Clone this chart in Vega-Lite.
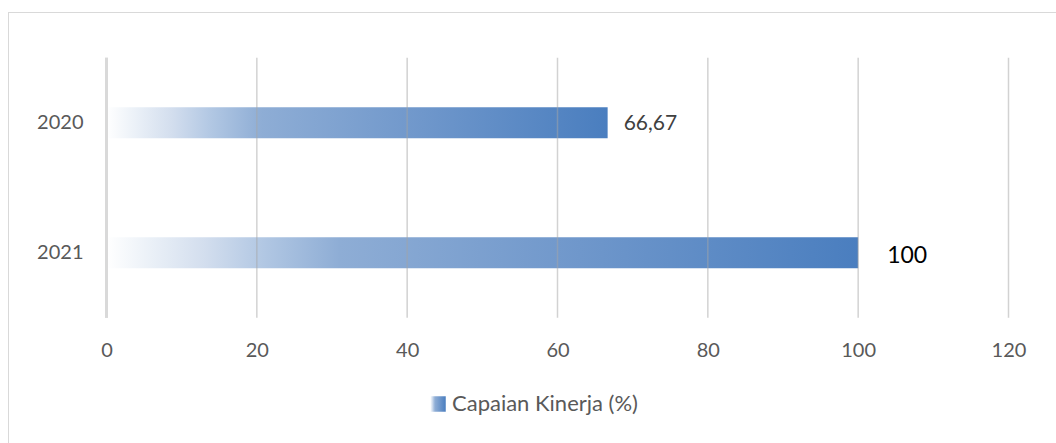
{
  "$schema": "https://vega.github.io/schema/vega-lite/v6.json",
  "width": 1048,
  "height": 431,
  "autosize": {"type": "none"},
  "padding": {"left": 8, "top": 12, "right": 0, "bottom": 0},
  "background": "#ffffff",
  "config": {
    "view": {"stroke": null},
    "font": "Lato",
    "locale": {"number": {"decimal": ",", "thousands": ".", "grouping": [3], "currency": ["Rp", ""]}}
  },
  "resolve": {"axis": {"x": "independent", "y": "independent"}},
  "data": {"values": [
    {"year": 2020, "value": 66.67, "series": "Capaian Kinerja (%)"},
    {"year": 2021, "value": 100, "series": "Capaian Kinerja (%)"}
  ]},
  "layer": [
    {
      "mark": {"type": "bar", "orient": "horizontal", "height": 31},
      "encoding": {
        "x": {"field": "value", "type": "quantitative",
              "scale": {"domain": [-13.104, 126.319], "nice": false, "zero": false, "padding": 0},
              "axis": {"orient": "bottom", "values": [0, 20, 40, 60, 80, 100, 120], "format": "d", "title": null,
                       "domain": false, "ticks": false, "grid": false, "offset": -93,
                       "labelPadding": 0, "labelBaseline": "middle", "labelFontSize": 20, "labelColor": "#595959",
                       "labelFont": "Lato", "labelFlush": false, "labelOverlap": false}},
        "x2": {"datum": 0},
        "y": {"field": "year", "type": "quantitative",
              "scale": {"domain": [2019.1477, 2022.4631], "reverse": true, "nice": false, "zero": false, "padding": 0},
              "axis": {"orient": "left", "values": [2020, 2021], "format": "d", "title": null,
                       "domain": false, "ticks": false, "grid": false, "offset": -77,
                       "labelFontSize": 20, "labelColor": "#595959", "labelFont": "Lato", "labelBaseline": "middle",
                       "labelOverlap": false}},
        "color": {"field": "series", "type": "nominal",
                  "scale": {"range": [{"expr": "{gradient: 'linear', x1: 0, y1: 0, x2: 1, y2: 0, stops: [{offset: 0, color: '#ffffff'}, {offset: 0.06, color: '#eaf0f7'}, {offset: 0.13, color: '#d3deee'}, {offset: 0.21, color: '#b1c7e3'}, {offset: 0.31, color: '#8eadd5'}, {offset: 0.63, color: '#6f97cb'}, {offset: 1, color: '#4a7ebf'}]}"}]},
                  "legend": {"orient": "none", "legendX": 419, "legendY": 381, "title": null, "padding": 0,
                             "symbolType": "square", "symbolSize": 240, "symbolStrokeWidth": 0,
                             "labelFont": "Lato", "labelFontSize": 22, "labelColor": "#595959", "labelOffset": 3,
                             "labelLimit": 400}}
      }
    },
    {
      "data": {"values": [{"tick": 20}, {"tick": 40}, {"tick": 60}, {"tick": 80}, {"tick": 100}, {"tick": 120}]},
      "mark": {"type": "rule", "color": "#A6A6A6", "strokeWidth": 1.5, "opacity": 0.5},
      "encoding": {
        "x": {"field": "tick", "type": "quantitative", "axis": null},
        "y": {"datum": 2019.5, "type": "quantitative", "axis": null},
        "y2": {"datum": 2021.5}
      }
    },
    {
      "mark": {"type": "rule", "color": "#D9D9D9", "strokeWidth": 3},
      "encoding": {
        "x": {"datum": 0, "type": "quantitative", "axis": null},
        "y": {"datum": 2019.5, "type": "quantitative", "axis": null},
        "y2": {"datum": 2021.5}
      }
    },
    {
      "mark": {"type": "rule", "color": "#D9D9D9", "strokeWidth": 1},
      "encoding": {
        "x": {"datum": -13.037, "type": "quantitative", "axis": null}
      }
    },
    {
      "mark": {"type": "rule", "color": "#D9D9D9", "strokeWidth": 1},
      "encoding": {
        "y": {"datum": 2019.1515, "type": "quantitative", "axis": null}
      }
    },
    {
      "transform": [{"filter": "datum.year == 2020"}],
      "mark": {"type": "text", "align": "left", "baseline": "middle", "dx": 16, "dy": 1, "fontSize": 21, "color": "#404040", "font": "Lato"},
      "encoding": {
        "x": {"field": "value", "type": "quantitative", "axis": null},
        "y": {"field": "year", "type": "quantitative", "axis": null},
        "text": {"field": "value", "type": "quantitative", "format": ".2~f"}
      }
    },
    {
      "transform": [{"filter": "datum.year == 2021"}],
      "mark": {"type": "text", "align": "left", "baseline": "middle", "dx": 29, "dy": 3, "fontSize": 23, "color": "#000000", "font": "Lato"},
      "encoding": {
        "x": {"field": "value", "type": "quantitative", "axis": null},
        "y": {"field": "year", "type": "quantitative", "axis": null},
        "text": {"field": "value", "type": "quantitative", "format": ".2~f"}
      }
    }
  ]
}
